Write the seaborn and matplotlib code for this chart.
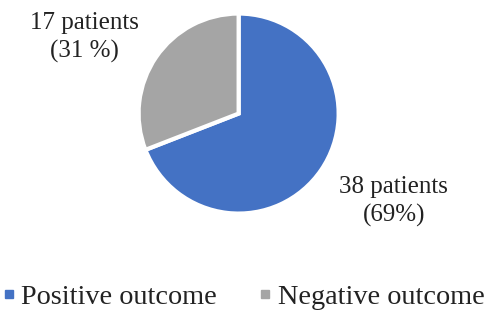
import matplotlib
matplotlib.use('Agg')
import matplotlib.pyplot as plt
from matplotlib.lines import Line2D
import seaborn as sns

sns.set_theme(style='white')
plt.rcParams['font.family'] = ['Liberation Serif', 'DejaVu Serif']

# data
outcomes = ['Positive outcome', 'Negative outcome']
patients = [38, 17]
pct_labels = ['38 patients\n(69%)', '17 patients\n(31 %)']
colors = ['#4472C4', '#A5A5A5']
# label centres, in pie radii from the centre
label_pos = [(1.55, -0.88), (-1.54, 0.76)]

fig = plt.figure(figsize=(4.86, 3.15), dpi=100)
ax = fig.add_axes([0.282, 0.322, 0.418, 0.635])

wedges, texts = ax.pie(patients, colors=colors, labels=pct_labels,
                       startangle=90, counterclock=False,
                       wedgeprops=dict(edgecolor='white', linewidth=3),
                       textprops=dict(fontsize=18, color='#222222'))
for t, p in zip(texts, label_pos):
    t.set_position(p)
    t.set_ha('center')
    t.set_va('center')
    t.set_multialignment('center')
    t.set_linespacing(1.3)
    t.set_clip_on(False)
ax.set_xlim(-1, 1)
ax.set_ylim(-1, 1)
ax.set_aspect('equal')

handles = [Line2D([], [], marker='s', linestyle='', color=c, markersize=6) for c in colors]
fig.legend(handles, outcomes, loc='center', bbox_to_anchor=(0.5, 0.058), ncol=2,
           frameon=False, fontsize=20.3, handletextpad=0.2, columnspacing=1.45,
           handlelength=0.5, labelcolor='#222222', borderpad=0, borderaxespad=0)

fig.savefig('out.png', dpi=100)
